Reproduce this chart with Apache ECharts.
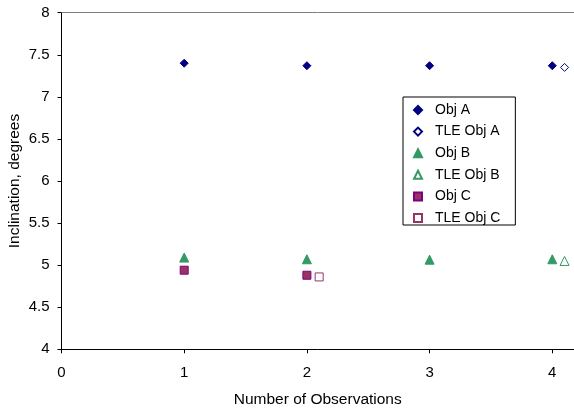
<!DOCTYPE html>
<html><head><meta charset="utf-8">
<script src="https://cdn.jsdelivr.net/npm/echarts@6/dist/echarts.min.js"></script>
<style>html,body{margin:0;padding:0;background:#fff}#c{width:574px;height:408px}</style>
</head><body><div id="c"></div>
<script>
const seriesNames = ['Obj A','TLE Obj A','Obj B','TLE Obj B','Obj C','TLE Obj C'];
const objA = [[1,7.40],[2,7.37],[3,7.37],[4,7.37]];
const tleObjA = [[4.1,7.35]];
const objB = [[1,5.09],[2,5.07],[3,5.065],[4,5.07]];
const tleObjB = [[4.1,5.05]];
const objC = [[1,4.94],[2,4.88]];
const tleObjC = [[2.1,4.86]];
const xTicks = [0,1,2,3,4];
const yTicks = [4,4.5,5,5.5,6,6.5,7,7.5,8];

const navy = '#000080', green = '#339966', plum = '#993366';
const font = 'Liberation Sans, Arial, sans-serif';
function s(name, data, symbol, size, fill, stroke){
  return {name, type:'scatter', data, symbol, symbolSize:size,
    itemStyle:{color:fill, borderColor:stroke, borderWidth:1, opacity:1},
    emphasis:{disabled:true}};
}
const xMaxVisible = 4.177;
const chart = echarts.init(document.getElementById('c'), null, {renderer:'canvas'});
chart.setOption({
  animation:false,
  backgroundColor:'#fff',
  textStyle:{fontFamily:font},
  grid:{left:61.5, top:12.7, right:0, bottom:58.7, show:false, containLabel:false, outerBoundsMode:'none'},
  xAxis:[{type:'value', min:0, max:xMaxVisible, interval:1,
    name:'Number of Observations', nameLocation:'middle', nameGap:42,
    nameTextStyle:{fontSize:15.5, color:'#000', fontFamily:font},
    axisLine:{lineStyle:{color:'#000', width:1}},
    axisTick:{show:true, length:4, lineStyle:{color:'#000'}, customValues:xTicks},
    axisLabel:{fontSize:15, color:'#000', margin:16, fontFamily:font, customValues:xTicks,
      formatter:v=> String(v)},
    splitLine:{show:false}},
   {type:'value', position:'top', min:0, max:xMaxVisible,
    axisLine:{show:true, lineStyle:{color:'#808080', width:1}},
    axisTick:{show:false}, axisLabel:{show:false}, splitLine:{show:false}}],
  yAxis:{type:'value', min:4, max:8, interval:0.5,
    name:'Inclination, degrees', nameLocation:'middle', nameGap:39, nameMoveOverlap:false,
    nameTextStyle:{fontSize:15.5, color:'#000', fontFamily:font},
    axisLine:{show:true, lineStyle:{color:'#000', width:1}},
    axisTick:{show:true, length:4, lineStyle:{color:'#000'}},
    axisLabel:{fontSize:15, color:'#000', margin:12, fontFamily:font,
      formatter:v=> yTicks.includes(v)? String(v):''},
    splitLine:{show:false}},
  legend:{orient:'vertical', left:403, top:97, data:seriesNames,
    borderColor:'#000', borderWidth:1, padding:[6,15,0,10],
    itemWidth:8, itemHeight:8, itemGap:7.6,
    textStyle:{fontSize:14, color:'#000', fontFamily:font, lineHeight:12, padding:[0,0,0,8]}},
  series:[
    s('Obj A', objA, 'diamond', 8, navy, navy),
    s('TLE Obj A', tleObjA, 'diamond', 8, '#fff', navy),
    s('Obj B', objB, 'triangle', 9, green, green),
    s('TLE Obj B', tleObjB, 'triangle', 9, '#fff', green),
    s('Obj C', objC, 'rect', 8, plum, '#800080'),
    s('TLE Obj C', tleObjC, 'rect', 8, '#fff', plum)
  ]
});
</script></body></html>
